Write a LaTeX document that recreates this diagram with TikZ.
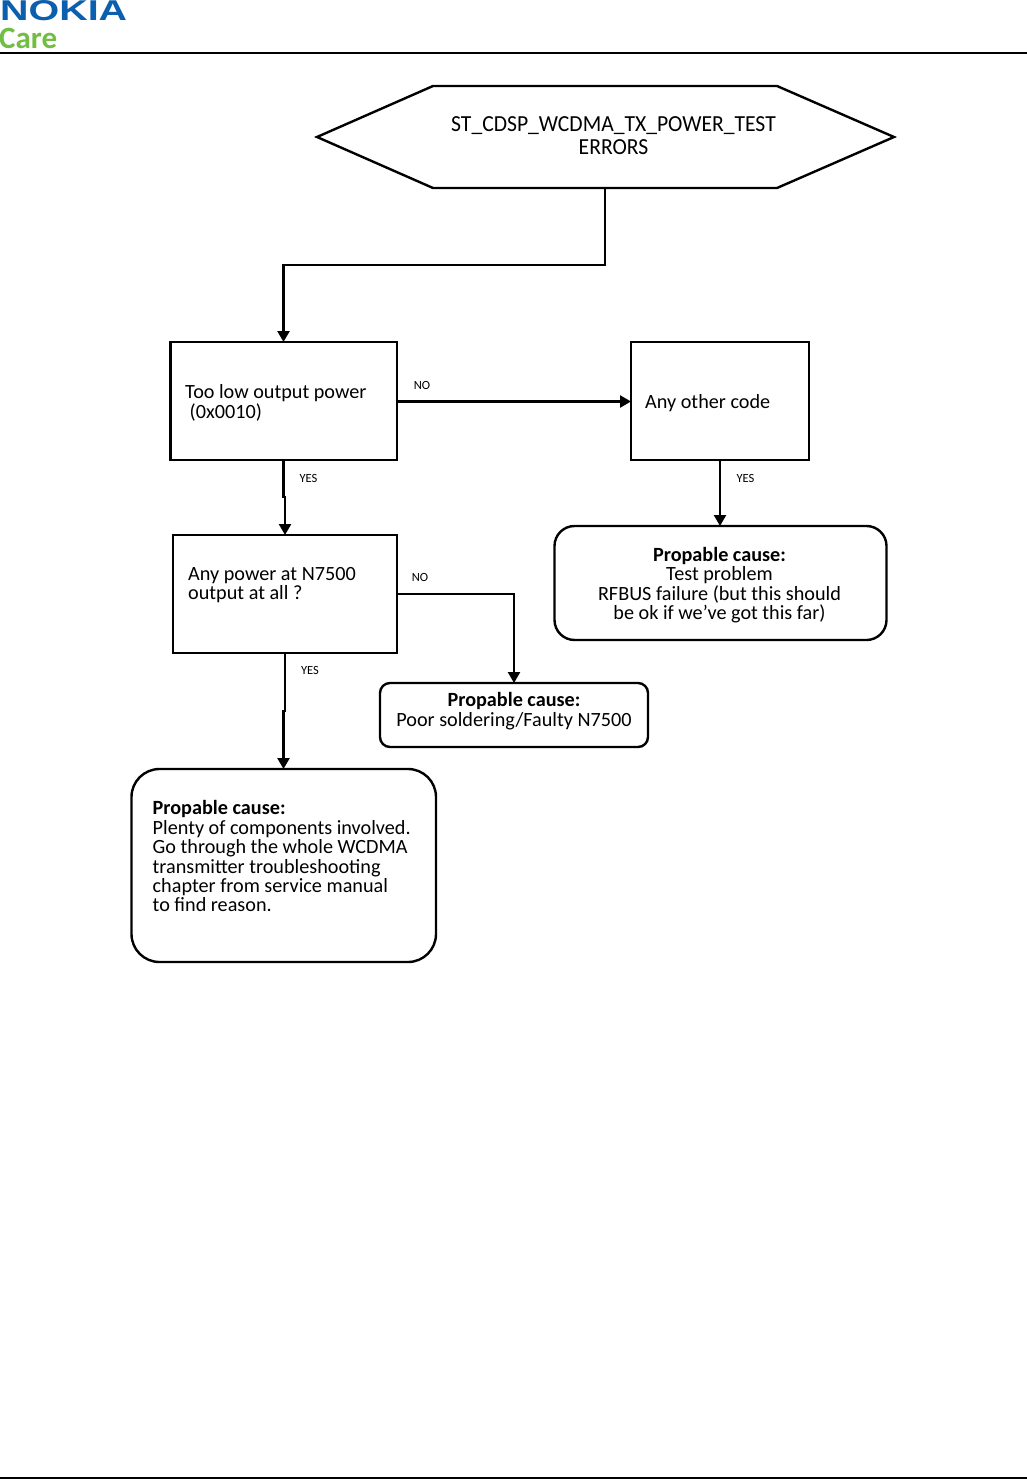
\documentclass[tikz,border=0pt]{standalone}
\usepackage{fontspec}
\usepackage{graphicx}
\setmainfont{Carlito}
\newfontfamily\logofont{Liberation Sans}
\usetikzlibrary{arrows.meta}
\definecolor{nokiablue}{HTML}{0B5FAE}
\definecolor{caregreen}{HTML}{72BE44}
\tikzset{x=1pt,y=-1pt,
 boxline/.style={draw=black,line width=2.4pt,inner sep=0pt,outer sep=0pt,anchor=north west},
 flow/.style={draw=black,line width=2.4pt,-{Triangle[length=11pt,width=12pt]}},
 rule/.style={draw=black,line width=1.6pt},
 body/.style={font=\fontsize{20.2}{19.4}\selectfont,inner sep=0pt,align=left,anchor=north west},
 centered/.style={font=\fontsize{20.2}{19.4}\selectfont,inner sep=0pt,align=center,anchor=center},
 tag/.style={font=\fontsize{12.5}{12.5}\selectfont,inner sep=0pt,anchor=center}}
\begin{document}
\begin{tikzpicture}
\useasboundingbox[fill=white] (0,0) rectangle (1027,1479);
% header
\node[anchor=west,inner sep=0pt,text=nokiablue] (logo) at (0,11) {\resizebox{127pt}{20pt}{\logofont\bfseries NOKIA}};
\node[anchor=west,inner sep=0pt,text=caregreen,font=\fontsize{31}{31}\selectfont\bfseries] (care) at (-1,38) {Care};
\coordinate (hl) at (0,53); \coordinate (hr) at (1027,53);
\draw[rule] (hl) -- (hr);
\coordinate (fl) at (0,1478); \coordinate (fr) at (1027,1478);
\draw[rule] (fl) -- (fr);
% hexagon
\coordinate (h1) at (317,137); \coordinate (h2) at (433,86); \coordinate (h3) at (777,86);
\coordinate (h4) at (894,137); \coordinate (h5) at (777,188); \coordinate (h6) at (433,188);
\draw[black,line width=2.4pt,line join=miter] (h1) -- (h2) -- (h3) -- (h4) -- (h5) -- (h6) -- cycle;
\node[centered,font=\fontsize{23}{23}\selectfont\addfontfeature{FakeStretch=0.94}] (hext) at (613.5,136) {ST\_CDSP\_WCDMA\_TX\_POWER\_TEST\\ERRORS};
\coordinate (hb) at (605,188);
% boxes
\node[boxline,minimum width=226.5pt,minimum height=118pt] (low) at (170.5,342) {};
\node[boxline,minimum width=178pt,minimum height=118pt] (other) at (631,342) {};
\node[boxline,minimum width=224pt,minimum height=118pt] (any) at (173,535) {};
\node[boxline,rounded corners=20pt,minimum width=332pt,minimum height=114pt] (c1) at (554.5,526) {};
\node[boxline,rounded corners=10pt,minimum width=268pt,minimum height=64pt] (c2) at (380,683) {};
\node[boxline,rounded corners=28pt,minimum width=304.5pt,minimum height=193pt] (c3) at (131.5,769) {};
% texts
\node[body] (t1) at (185,384.5) {Too low output power\\\hspace*{4.5pt}(0x0010)};
\node[body] (t2) at (645,394) {Any other code};
\node[body] (t3) at (188,567) {Any power at N7500\\output at all ?};
\node[centered] (t4) at (719.5,585) {\textbf{Propable cause:}\\Test problem\\RFBUS failure (but this should\\be ok if we’ve got this far)};
\node[centered] (t5) at (514,711) {\textbf{Propable cause:}\\Poor soldering/Faulty N7500};
\node[body] (t6) at (152.5,800.5) {\textbf{Propable cause:}\\Plenty of components involved.\\Go through the whole WCDMA\\transmitter troubleshooting\\chapter from service manual\\to find reason.};
% connector way-points
\coordinate (a1) at (605,265); \coordinate (a2) at (283.5,265); \coordinate (a3) at (283.5,342);
\coordinate (b1) at (283.5,460); \coordinate (b2) at (283.5,497); \coordinate (b3) at (285,497); \coordinate (b4) at (285,535);
\coordinate (c0) at (397,401.5); \coordinate (c9) at (631,401.5);
\coordinate (d1) at (720,460); \coordinate (d2) at (720,526);
\coordinate (e1) at (397,594); \coordinate (e2) at (514,594); \coordinate (e3) at (514,683);
\coordinate (f1) at (285,653); \coordinate (f2) at (285,711); \coordinate (f3) at (283.5,711); \coordinate (f4) at (283.5,769);
\draw[flow] (hb) -- (a1) -- (a2) -- (a3);
\draw[flow] (b1) -- (b2) -- (b3) -- (b4);
\draw[flow] (c0) -- (c9);
\draw[flow] (d1) -- (d2);
\draw[flow] (e1) -- (e2) -- (e3);
\draw[flow] (f1) -- (f2) -- (f3) -- (f4);
% tags
\node[tag] (n1) at (422,385.5) {NO};
\node[tag] (y1) at (308.5,478.5) {YES};
\node[tag] (y2) at (745.5,478) {YES};
\node[tag] (n2) at (420,577.5) {NO};
\node[tag] (y3) at (310,670.5) {YES};
\end{tikzpicture}
\end{document}
